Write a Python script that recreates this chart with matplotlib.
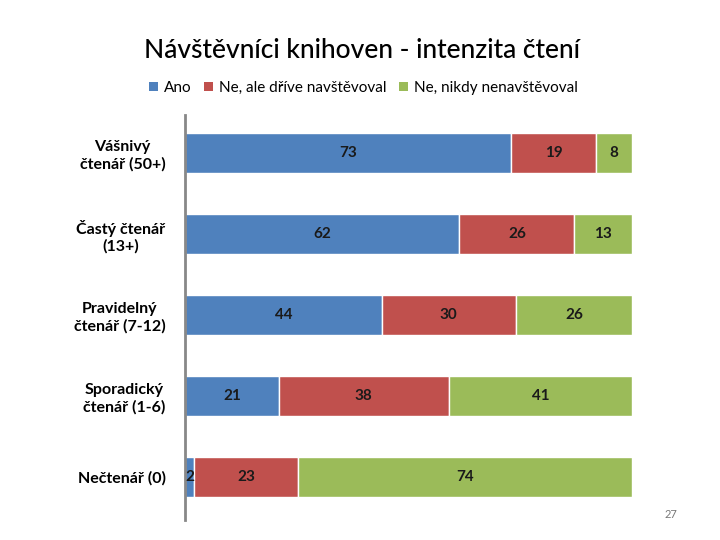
import numpy as np
import matplotlib
matplotlib.use('Agg')
import matplotlib.pyplot as plt
from matplotlib.patches import Patch

plt.rcParams['font.family'] = ['Lato', 'DejaVu Sans']

# data
categories = ['Vášnivý\nčtenář (50+)', 'Častý čtenář\n(13+)', 'Pravidelný\nčtenář (7-12)',
              'Sporadický\nčtenář (1-6)', 'Nečtenář (0)']
series_names = ['Ano', 'Ne, ale dříve navštěvoval', 'Ne, nikdy nenavštěvoval']
ano = [73, 62, 44, 21, 2]
ne_drive = [19, 26, 30, 38, 23]
ne_nikdy = [8, 13, 26, 41, 74]
colors = ['#4F81BD', '#C0504D', '#9BBB59']

values = np.array([ano, ne_drive, ne_nikdy], dtype=float)
totals = values.sum(axis=0)
shares = values / totals * 100

fig = plt.figure(figsize=(7.2, 5.4), dpi=100)
ax = fig.add_axes([185/720, 1 - 520/540, 447/720, 405/540])

y = np.arange(len(categories))
left = np.zeros(len(categories))
for i in range(3):
    ax.barh(y, shares[i], left=left, height=0.49, color=colors[i],
            edgecolor='white', linewidth=1)
    for j in range(len(categories)):
        ax.text(left[j] + shares[i][j] / 2, y[j], str(int(values[i][j])),
                ha='center', va='center', fontsize=11, fontweight='bold',
                color='#1a1a1a')
    left += shares[i]

ax.set_xlim(0, 100)
ax.set_ylim(4.53, -0.47)
ax.set_yticks(y)
ax.set_yticklabels(categories, fontsize=11.5, fontweight='bold', multialignment='center')
ax.tick_params(axis='y', length=0, pad=14)
ax.set_xticks([])
for s in ['top', 'right', 'bottom']:
    ax.spines[s].set_visible(False)
ax.spines['left'].set_color('#888888')
ax.spines['left'].set_linewidth(2)

fig.text(0.503, 1 - 50/540, 'Návštěvníci knihoven - intenzita čtení',
         ha='center', va='center', fontsize=19, fontweight='medium')

handles = [Patch(facecolor=c) for c in colors]
fig.legend(handles, series_names, loc='center', bbox_to_anchor=(0.505, 1 - 88/540),
           ncol=3, frameon=False, fontsize=11, handlelength=0.6, handleheight=0.6,
           handletextpad=0.4, columnspacing=0.8)

fig.text(671/720, 1 - 514/540, '27', ha='center', va='center', fontsize=8, color='#777777')

fig.savefig('out.png', dpi=100)
